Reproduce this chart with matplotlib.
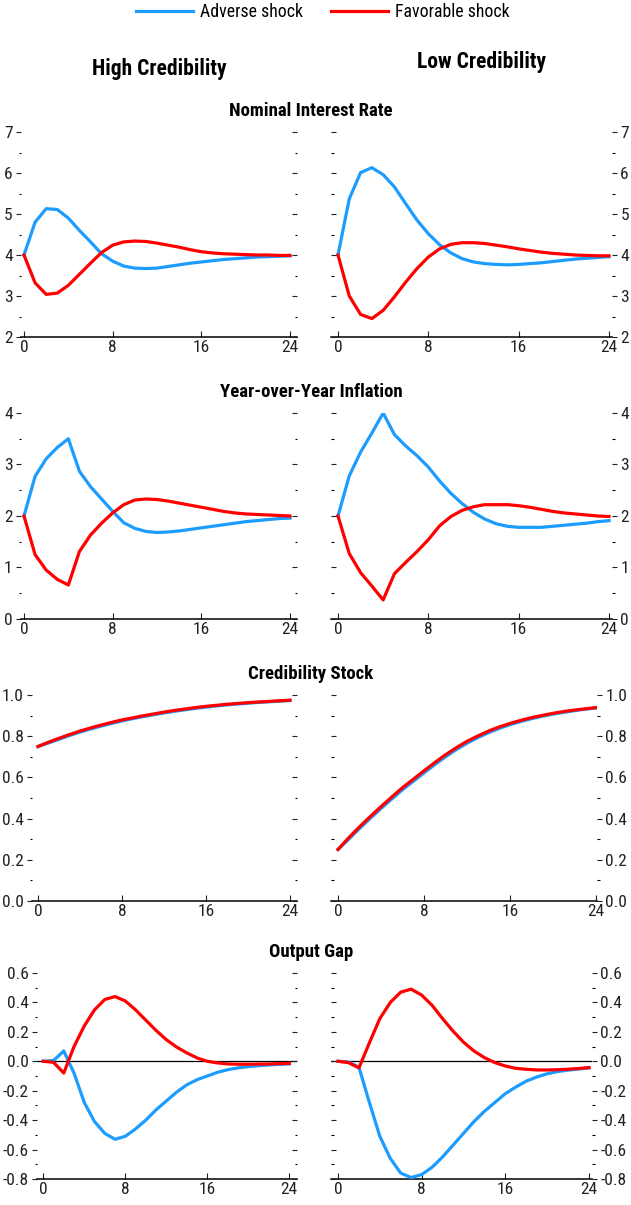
import matplotlib
matplotlib.use("Agg")
import matplotlib.pyplot as plt
from matplotlib import font_manager
from matplotlib.lines import Line2D
from matplotlib.ticker import MultipleLocator, FormatStrFormatter

# the reference uses a narrow grotesque; take a condensed face when one is installed
installed = {f.name for f in font_manager.fontManager.ttflist}
narrow = [n for n in ['Roboto Condensed', 'Liberation Sans Narrow', 'Noto Sans Condensed',
                      'Open Sans Condensed', 'DejaVu Sans Condensed'] if n in installed]
if narrow:
    plt.rcParams['font.family'] = [narrow[0], 'DejaVu Sans']
    TICK_FS, TITLE_FS, COL_FS, LEG_FS = 12.5, 13.5, 15.5, 12.8
else:
    plt.rcParams['font.family'] = ['Liberation Sans', 'DejaVu Sans']
    TICK_FS, TITLE_FS, COL_FS, LEG_FS = 10.5, 11.5, 13.5, 11

BLUE = '#1c9cff'
RED = '#ff0000'

quarters = list(range(25))

# Nominal interest rate
rate_high_adverse = [4.00, 4.80, 5.13, 5.11, 4.90, 4.60, 4.32, 4.03, 3.85, 3.73, 3.68, 3.67, 3.68,
                     3.72, 3.76, 3.80, 3.83, 3.86, 3.89, 3.91, 3.93, 3.95, 3.96, 3.97, 3.98]
rate_high_favorable = [4.00, 3.32, 3.04, 3.07, 3.26, 3.53, 3.80, 4.06, 4.24, 4.32, 4.34, 4.33, 4.29,
                       4.24, 4.19, 4.13, 4.08, 4.05, 4.03, 4.02, 4.01, 4.00, 4.00, 3.99, 3.99]
rate_low_adverse = [4.00, 5.37, 6.01, 6.13, 5.96, 5.66, 5.25, 4.85, 4.52, 4.25, 4.05, 3.91, 3.83,
                    3.79, 3.77, 3.76, 3.77, 3.79, 3.81, 3.84, 3.87, 3.90, 3.92, 3.94, 3.96]
rate_low_favorable = [4.00, 3.00, 2.55, 2.45, 2.65, 2.98, 3.34, 3.67, 3.95, 4.15, 4.26, 4.30, 4.30,
                      4.28, 4.24, 4.20, 4.15, 4.11, 4.07, 4.04, 4.02, 4.00, 3.99, 3.98, 3.98]

# Year-over-year inflation
infl_high_adverse = [2.00, 2.77, 3.11, 3.33, 3.50, 2.87, 2.57, 2.33, 2.09, 1.87, 1.76, 1.70, 1.68,
                     1.69, 1.71, 1.74, 1.77, 1.80, 1.83, 1.86, 1.89, 1.91, 1.93, 1.95, 1.96]
infl_high_favorable = [2.00, 1.25, 0.95, 0.77, 0.66, 1.31, 1.63, 1.86, 2.06, 2.22, 2.31, 2.33, 2.32,
                       2.29, 2.25, 2.21, 2.17, 2.13, 2.09, 2.06, 2.04, 2.03, 2.02, 2.01, 2.00]
infl_low_adverse = [2.00, 2.78, 3.24, 3.61, 4.00, 3.58, 3.36, 3.17, 2.95, 2.68, 2.44, 2.24, 2.07,
                    1.94, 1.85, 1.80, 1.78, 1.78, 1.78, 1.80, 1.82, 1.84, 1.86, 1.89, 1.91]
infl_low_favorable = [2.00, 1.27, 0.90, 0.64, 0.37, 0.88, 1.10, 1.31, 1.54, 1.81, 1.99, 2.11, 2.18,
                      2.22, 2.22, 2.22, 2.20, 2.17, 2.13, 2.09, 2.06, 2.04, 2.02, 2.00, 1.99]

# Credibility stock
cred_high_adverse = [0.750, 0.767, 0.785, 0.803, 0.820, 0.835, 0.849, 0.862, 0.874, 0.885, 0.895,
                     0.904, 0.913, 0.921, 0.928, 0.935, 0.941, 0.947, 0.952, 0.956, 0.960, 0.964,
                     0.967, 0.970, 0.973]
cred_high_favorable = [0.750, 0.771, 0.790, 0.808, 0.825, 0.840, 0.854, 0.867, 0.879, 0.889, 0.899,
                       0.908, 0.917, 0.925, 0.932, 0.939, 0.945, 0.950, 0.955, 0.959, 0.963, 0.966,
                       0.969, 0.972, 0.975]
cred_low_adverse = [0.250, 0.300, 0.352, 0.401, 0.449, 0.495, 0.540, 0.581, 0.622, 0.662, 0.700,
                    0.735, 0.766, 0.793, 0.817, 0.838, 0.856, 0.871, 0.885, 0.897, 0.907, 0.916,
                    0.924, 0.931, 0.937]
cred_low_favorable = [0.250, 0.307, 0.360, 0.410, 0.458, 0.505, 0.550, 0.591, 0.632, 0.672, 0.710,
                      0.744, 0.775, 0.801, 0.825, 0.845, 0.862, 0.877, 0.890, 0.901, 0.911, 0.920,
                      0.927, 0.933, 0.939]

# Output gap
gap_high_adverse = [0.000, 0.005, 0.070, -0.080, -0.280, -0.410, -0.490, -0.530, -0.510, -0.460,
                    -0.400, -0.330, -0.270, -0.210, -0.160, -0.125, -0.100, -0.075, -0.057, -0.045,
                    -0.036, -0.030, -0.025, -0.021, -0.018]
gap_high_favorable = [0.000, -0.007, -0.080, 0.100, 0.240, 0.350, 0.420, 0.440, 0.410, 0.350, 0.280,
                      0.210, 0.147, 0.097, 0.057, 0.023, 0.000, -0.011, -0.018, -0.020, -0.020,
                      -0.019, -0.018, -0.016, -0.014]
gap_low_adverse = [0.000, -0.005, -0.040, -0.280, -0.510, -0.660, -0.760, -0.790, -0.770, -0.720,
                   -0.650, -0.570, -0.490, -0.410, -0.340, -0.280, -0.220, -0.175, -0.135, -0.107,
                   -0.085, -0.070, -0.060, -0.053, -0.045]
gap_low_favorable = [0.000, -0.009, -0.045, 0.125, 0.290, 0.400, 0.470, 0.490, 0.450, 0.380, 0.290,
                     0.205, 0.130, 0.070, 0.025, -0.009, -0.032, -0.048, -0.054, -0.059, -0.059,
                     -0.057, -0.054, -0.049, -0.043]

panel_titles = ['Nominal Interest Rate', 'Year-over-Year Inflation', 'Credibility Stock', 'Output Gap']
column_titles = ['High Credibility', 'Low Credibility']
legend_labels = ['Adverse shock', 'Favorable shock']
x_ticks = [0, 8, 16, 24]

# (ymin, ymax, major step, minor step, label format)
y_scales = [(2, 7, 1, 0.5, '%d'), (0, 4, 1, 0.5, '%d'),
            (0.0, 1.0, 0.2, 0.1, '%.1f'), (-0.8, 0.6, 0.2, 0.1, '%.1f')]

series = [
    [(rate_high_adverse, rate_high_favorable), (rate_low_adverse, rate_low_favorable)],
    [(infl_high_adverse, infl_high_favorable), (infl_low_adverse, infl_low_favorable)],
    [(cred_high_adverse, cred_high_favorable), (cred_low_adverse, cred_low_favorable)],
    [(gap_high_adverse, gap_high_favorable), (gap_low_adverse, gap_low_favorable)],
]

W, H = 631, 1205
row_px = [(132, 337), (413, 619), (695, 901), (973, 1179)]
# per row: (left panel x0, x1, xlim), (right panel x0, x1, xlim)
col_px = [
    [(21, 297, (-0.27, 24.63)), (331, 612, (-0.62, 24.27))],
    [(21, 297, (-0.27, 24.63)), (331, 612, (-0.62, 24.27))],
    [(32, 297, (-0.57, 24.67)), (331, 597, (-0.65, 24.09))],
    [(37, 297, (-0.61, 24.75)), (331, 592, (-0.67, 24.29))],
]

fig = plt.figure(figsize=(W / 100, H / 100), dpi=100)

for r in range(4):
    top, bot = row_px[r]
    ymin, ymax, step, mstep, fmt = y_scales[r]
    for c in range(2):
        x0, x1, xlim = col_px[r][c]
        ax = fig.add_axes([x0 / W, 1 - bot / H, (x1 - x0) / W, (bot - top) / H])
        tw = ax.twinx()  # carries the inward ticks on the unlabelled side

        adverse, favorable = series[r][c]
        if r == 3:
            ax.axhline(0, color='black', lw=0.9, zorder=1)
        ax.plot(quarters, adverse, color=BLUE, lw=2.3, zorder=3)
        ax.plot(quarters, favorable, color=RED, lw=2.3, zorder=4)
        ax.set_xlim(*xlim)
        ax.set_ylim(ymin, ymax)
        tw.set_ylim(ymin, ymax)
        for s in ['top', 'left', 'right']:
            ax.spines[s].set_visible(False)
        for s in tw.spines.values():
            s.set_visible(False)
        ax.spines['bottom'].set_linewidth(1.1)
        ax.set_xticks(x_ticks)
        ax.tick_params(axis='x', direction='in', length=4, width=0.8, labelsize=TICK_FS, pad=2,
                       colors='#222222')

        for a in (ax, tw):
            a.yaxis.set_major_locator(MultipleLocator(step))
            a.yaxis.set_minor_locator(MultipleLocator(mstep))
        ax.yaxis.set_major_formatter(FormatStrFormatter(fmt))
        if c == 0:
            ax.yaxis.tick_left()
            tw.yaxis.tick_right()
        else:
            ax.yaxis.tick_right()
            tw.yaxis.tick_left()
        ax.tick_params(axis='y', which='major', direction='out', length=3.5, width=0.8,
                       labelsize=TICK_FS, pad=2.5, colors='#222222')
        ax.tick_params(axis='y', which='minor', direction='out', length=1.8, width=0.8)
        tw.tick_params(axis='y', which='major', direction='in', length=3.5, width=0.8,
                       labelleft=False, labelright=False, colors='#222222')
        tw.tick_params(axis='y', which='minor', direction='in', length=1.8, width=0.8)

    fig.text(311 / W, 1 - (top - 21) / H, panel_titles[r], ha='center', va='center',
             fontsize=TITLE_FS, fontweight='bold')

fig.text(159 / W, 1 - 69 / H, column_titles[0], ha='center', va='center', fontsize=COL_FS,
         fontweight='bold')
fig.text(482 / W, 1 - 62 / H, column_titles[1], ha='center', va='center', fontsize=COL_FS,
         fontweight='bold')

handles = [Line2D([], [], color=BLUE, lw=2.3), Line2D([], [], color=RED, lw=2.3)]
fig.legend(handles, legend_labels, loc='center', bbox_to_anchor=(323 / W, 1 - 12 / H), ncol=2,
           frameon=False, fontsize=LEG_FS, handlelength=3.2, handletextpad=0.4, columnspacing=1.6,
           borderpad=0, borderaxespad=0)

fig.savefig('out.png', dpi=100)
